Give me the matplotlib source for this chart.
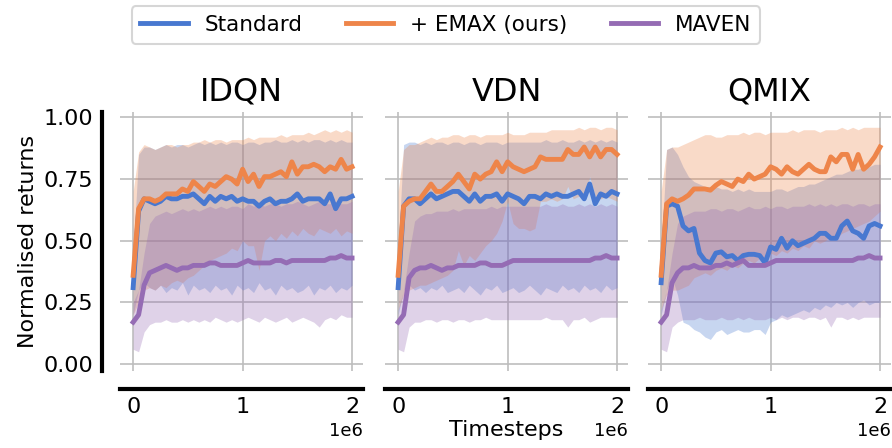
import numpy as np
import matplotlib.pyplot as plt

# Timesteps (41 evaluation points between 0 and 2e6)
steps = np.linspace(0, 2e6, 41)

titles = ["IDQN", "VDN", "QMIX"]
labels = ["Standard", "+ EMAX (ours)", "MAVEN"]
colors = ["#4878d0", "#ee854a", "#956cb4"]
yticks = [0.0, 0.25, 0.5, 0.75, 1.0]
xticks = [0, 1e6, 2e6]

# --- IDQN ---
idqn_std = [0.31, 0.62, 0.67, 0.66, 0.65, 0.66, 0.68, 0.67, 0.67, 0.68, 0.68, 0.69, 0.67, 0.65, 0.68, 0.66, 0.68, 0.67, 0.68, 0.66, 0.67,
            0.66, 0.66, 0.64, 0.66, 0.67, 0.65, 0.66, 0.66, 0.67, 0.69, 0.66, 0.67, 0.67, 0.67, 0.65, 0.69, 0.63, 0.67, 0.67, 0.68]
idqn_std_lo = [0.20, 0.30, 0.33, 0.31, 0.30, 0.32, 0.29, 0.31, 0.30, 0.33, 0.28, 0.32, 0.30, 0.31, 0.29, 0.32, 0.30, 0.31, 0.28, 0.32, 0.30,
               0.31, 0.29, 0.33, 0.30, 0.31, 0.28, 0.32, 0.30, 0.31, 0.29, 0.30, 0.32, 0.28, 0.31, 0.30, 0.32, 0.29, 0.31, 0.30, 0.32]
idqn_std_hi = [0.45, 0.85, 0.88, 0.88, 0.87, 0.88, 0.89, 0.88, 0.89, 0.89, 0.88, 0.89, 0.90, 0.89, 0.90, 0.89, 0.90, 0.89, 0.90, 0.90, 0.89,
               0.90, 0.90, 0.89, 0.90, 0.90, 0.91, 0.90, 0.90, 0.91, 0.90, 0.91, 0.90, 0.91, 0.91, 0.90, 0.91, 0.90, 0.91, 0.90, 0.90]
idqn_emax = [0.36, 0.63, 0.67, 0.67, 0.66, 0.67, 0.69, 0.69, 0.69, 0.71, 0.70, 0.74, 0.72, 0.70, 0.73, 0.72, 0.74, 0.76, 0.75, 0.73, 0.79,
             0.74, 0.77, 0.72, 0.76, 0.76, 0.77, 0.78, 0.76, 0.82, 0.77, 0.80, 0.80, 0.81, 0.80, 0.78, 0.80, 0.79, 0.83, 0.79, 0.80]
idqn_emax_lo = [0.20, 0.25, 0.30, 0.31, 0.30, 0.32, 0.31, 0.33, 0.34, 0.33, 0.35, 0.36, 0.38, 0.40, 0.42, 0.43, 0.44, 0.45, 0.47, 0.46, 0.50,
                0.48, 0.48, 0.38, 0.50, 0.52, 0.50, 0.53, 0.51, 0.54, 0.52, 0.55, 0.53, 0.52, 0.55, 0.54, 0.53, 0.55, 0.52, 0.54, 0.53]
idqn_emax_hi = [0.70, 0.86, 0.89, 0.88, 0.87, 0.88, 0.89, 0.89, 0.88, 0.89, 0.89, 0.90, 0.90, 0.91, 0.90, 0.91, 0.91, 0.90, 0.91, 0.91, 0.91,
                0.92, 0.91, 0.92, 0.92, 0.92, 0.92, 0.93, 0.92, 0.93, 0.93, 0.93, 0.94, 0.93, 0.94, 0.95, 0.94, 0.95, 0.94, 0.95, 0.94]
idqn_mav = [0.17, 0.20, 0.32, 0.37, 0.38, 0.39, 0.40, 0.39, 0.38, 0.39, 0.39, 0.40, 0.40, 0.40, 0.41, 0.41, 0.40, 0.40, 0.40, 0.40, 0.41,
            0.42, 0.41, 0.41, 0.41, 0.41, 0.42, 0.42, 0.41, 0.42, 0.42, 0.42, 0.42, 0.42, 0.42, 0.42, 0.43, 0.43, 0.44, 0.43, 0.43]
idqn_mav_lo = [0.06, 0.05, 0.13, 0.16, 0.17, 0.17, 0.18, 0.17, 0.17, 0.18, 0.17, 0.18, 0.17, 0.18, 0.17, 0.19, 0.18, 0.17, 0.18, 0.17, 0.18,
               0.19, 0.18, 0.17, 0.19, 0.18, 0.17, 0.18, 0.19, 0.17, 0.18, 0.19, 0.18, 0.17, 0.15, 0.18, 0.19, 0.18, 0.20, 0.19, 0.19]
idqn_mav_hi = [0.25, 0.30, 0.45, 0.57, 0.60, 0.61, 0.62, 0.61, 0.62, 0.63, 0.62, 0.63, 0.62, 0.63, 0.64, 0.63, 0.64, 0.63, 0.64, 0.64, 0.63,
               0.65, 0.64, 0.65, 0.64, 0.65, 0.65, 0.64, 0.65, 0.65, 0.66, 0.65, 0.64, 0.65, 0.66, 0.65, 0.65, 0.66, 0.65, 0.65, 0.66]

# --- VDN ---
vdn_std = [0.31, 0.64, 0.67, 0.67, 0.65, 0.67, 0.69, 0.67, 0.68, 0.69, 0.70, 0.70, 0.68, 0.66, 0.69, 0.66, 0.68, 0.68, 0.69, 0.66, 0.69,
           0.68, 0.67, 0.65, 0.68, 0.68, 0.67, 0.69, 0.68, 0.69, 0.68, 0.68, 0.69, 0.70, 0.67, 0.73, 0.65, 0.69, 0.68, 0.70, 0.69]
vdn_std_lo = [0.20, 0.30, 0.32, 0.30, 0.31, 0.29, 0.31, 0.30, 0.32, 0.29, 0.30, 0.31, 0.29, 0.32, 0.30, 0.28, 0.31, 0.30, 0.32, 0.29, 0.30,
              0.31, 0.29, 0.30, 0.32, 0.30, 0.28, 0.31, 0.30, 0.29, 0.32, 0.30, 0.31, 0.29, 0.32, 0.30, 0.31, 0.29, 0.32, 0.30, 0.31]
vdn_std_hi = [0.45, 0.89, 0.90, 0.90, 0.89, 0.90, 0.89, 0.90, 0.90, 0.89, 0.90, 0.90, 0.89, 0.90, 0.90, 0.89, 0.90, 0.90, 0.90, 0.89, 0.90,
              0.90, 0.90, 0.90, 0.90, 0.90, 0.90, 0.91, 0.90, 0.90, 0.91, 0.90, 0.90, 0.91, 0.90, 0.91, 0.90, 0.91, 0.90, 0.91, 0.90]
vdn_emax = [0.36, 0.64, 0.66, 0.67, 0.67, 0.70, 0.73, 0.70, 0.70, 0.72, 0.74, 0.77, 0.74, 0.71, 0.77, 0.75, 0.77, 0.78, 0.82, 0.78, 0.82,
            0.80, 0.79, 0.78, 0.79, 0.80, 0.84, 0.83, 0.83, 0.83, 0.83, 0.87, 0.85, 0.85, 0.88, 0.84, 0.88, 0.84, 0.87, 0.87, 0.85]
vdn_emax_lo = [0.22, 0.28, 0.30, 0.31, 0.32, 0.32, 0.33, 0.34, 0.35, 0.36, 0.38, 0.46, 0.40, 0.44, 0.42, 0.45, 0.48, 0.50, 0.53, 0.58, 0.66,
               0.57, 0.55, 0.55, 0.54, 0.55, 0.66, 0.66, 0.67, 0.66, 0.67, 0.72, 0.67, 0.68, 0.67, 0.76, 0.68, 0.67, 0.68, 0.67, 0.66]
vdn_emax_hi = [0.70, 0.87, 0.89, 0.89, 0.90, 0.91, 0.92, 0.91, 0.92, 0.92, 0.93, 0.93, 0.92, 0.93, 0.93, 0.92, 0.93, 0.93, 0.93, 0.93, 0.94,
               0.93, 0.93, 0.93, 0.94, 0.94, 0.94, 0.94, 0.95, 0.95, 0.95, 0.95, 0.95, 0.96, 0.95, 0.96, 0.96, 0.95, 0.96, 0.96, 0.95]
vdn_mav = [0.17, 0.20, 0.35, 0.38, 0.39, 0.39, 0.40, 0.39, 0.38, 0.39, 0.39, 0.40, 0.40, 0.40, 0.40, 0.41, 0.41, 0.40, 0.40, 0.40, 0.41,
           0.42, 0.42, 0.42, 0.42, 0.42, 0.42, 0.42, 0.42, 0.42, 0.42, 0.42, 0.42, 0.42, 0.42, 0.42, 0.43, 0.43, 0.44, 0.43, 0.43]
vdn_mav_lo = [0.06, 0.05, 0.15, 0.17, 0.17, 0.18, 0.18, 0.17, 0.18, 0.18, 0.17, 0.18, 0.18, 0.17, 0.18, 0.18, 0.19, 0.18, 0.18, 0.18, 0.18,
              0.18, 0.18, 0.18, 0.18, 0.18, 0.18, 0.19, 0.18, 0.18, 0.18, 0.15, 0.18, 0.18, 0.19, 0.17, 0.18, 0.19, 0.19, 0.19, 0.19]
vdn_mav_hi = [0.22, 0.30, 0.45, 0.58, 0.60, 0.61, 0.61, 0.62, 0.62, 0.62, 0.63, 0.62, 0.63, 0.63, 0.63, 0.63, 0.63, 0.64, 0.63, 0.64, 0.64,
              0.64, 0.64, 0.64, 0.64, 0.64, 0.64, 0.65, 0.64, 0.64, 0.65, 0.64, 0.64, 0.65, 0.64, 0.65, 0.64, 0.65, 0.64, 0.65, 0.64]

# --- QMIX ---
qmix_std = [0.33, 0.64, 0.65, 0.64, 0.56, 0.54, 0.55, 0.45, 0.42, 0.41, 0.45, 0.455, 0.435, 0.44, 0.42, 0.44, 0.445, 0.445, 0.44, 0.41, 0.475,
            0.465, 0.51, 0.47, 0.50, 0.48, 0.49, 0.50, 0.51, 0.53, 0.53, 0.51, 0.51, 0.56, 0.58, 0.54, 0.53, 0.51, 0.56, 0.57, 0.56]
qmix_std_lo = [0.20, 0.30, 0.35, 0.28, 0.17, 0.16, 0.14, 0.13, 0.11, 0.10, 0.13, 0.14, 0.12, 0.13, 0.14, 0.13, 0.13, 0.14, 0.14, 0.12, 0.17,
               0.18, 0.20, 0.19, 0.20, 0.21, 0.22, 0.21, 0.23, 0.22, 0.24, 0.23, 0.25, 0.24, 0.25, 0.23, 0.25, 0.26, 0.24, 0.25, 0.25]
qmix_std_hi = [0.45, 0.87, 0.88, 0.85, 0.80, 0.76, 0.74, 0.73, 0.72, 0.72, 0.72, 0.71, 0.71, 0.70, 0.71, 0.70, 0.71, 0.70, 0.70, 0.70, 0.70,
               0.71, 0.71, 0.70, 0.71, 0.72, 0.72, 0.73, 0.73, 0.74, 0.75, 0.76, 0.77, 0.77, 0.78, 0.79, 0.79, 0.80, 0.80, 0.81, 0.81]
qmix_emax = [0.36, 0.65, 0.67, 0.66, 0.67, 0.685, 0.71, 0.71, 0.71, 0.705, 0.725, 0.74, 0.73, 0.72, 0.75, 0.74, 0.77, 0.75, 0.76, 0.77, 0.80,
             0.79, 0.77, 0.80, 0.78, 0.77, 0.79, 0.81, 0.79, 0.78, 0.78, 0.84, 0.82, 0.85, 0.85, 0.79, 0.85, 0.79, 0.81, 0.84, 0.88]
qmix_emax_lo = [0.22, 0.28, 0.30, 0.30, 0.31, 0.32, 0.35, 0.36, 0.37, 0.36, 0.38, 0.39, 0.38, 0.40, 0.39, 0.41, 0.42, 0.41, 0.43, 0.42, 0.45,
                0.44, 0.46, 0.45, 0.47, 0.46, 0.48, 0.47, 0.50, 0.49, 0.50, 0.52, 0.51, 0.53, 0.54, 0.55, 0.56, 0.57, 0.58, 0.60, 0.62]
qmix_emax_hi = [0.70, 0.87, 0.88, 0.88, 0.89, 0.90, 0.91, 0.92, 0.93, 0.93, 0.92, 0.92, 0.93, 0.93, 0.93, 0.94, 0.93, 0.94, 0.94, 0.93, 0.94,
                0.94, 0.94, 0.94, 0.95, 0.94, 0.95, 0.95, 0.95, 0.94, 0.95, 0.95, 0.95, 0.96, 0.95, 0.96, 0.95, 0.96, 0.96, 0.96, 0.96]
qmix_mav = [0.17, 0.20, 0.33, 0.37, 0.39, 0.39, 0.40, 0.39, 0.39, 0.39, 0.40, 0.40, 0.41, 0.40, 0.41, 0.42, 0.40, 0.40, 0.40, 0.40, 0.41,
            0.42, 0.42, 0.42, 0.42, 0.42, 0.42, 0.42, 0.42, 0.42, 0.42, 0.42, 0.42, 0.42, 0.42, 0.42, 0.43, 0.43, 0.44, 0.43, 0.43]
qmix_mav_lo = [0.06, 0.05, 0.15, 0.17, 0.18, 0.18, 0.18, 0.19, 0.18, 0.18, 0.18, 0.19, 0.18, 0.18, 0.19, 0.18, 0.19, 0.18, 0.18, 0.18, 0.19,
               0.18, 0.19, 0.18, 0.19, 0.19, 0.18, 0.19, 0.19, 0.18, 0.19, 0.15, 0.19, 0.19, 0.18, 0.19, 0.18, 0.19, 0.19, 0.19, 0.19]
qmix_mav_hi = [0.22, 0.30, 0.45, 0.57, 0.60, 0.61, 0.62, 0.62, 0.62, 0.63, 0.63, 0.62, 0.63, 0.63, 0.62, 0.63, 0.64, 0.63, 0.63, 0.64, 0.63,
               0.64, 0.64, 0.63, 0.64, 0.64, 0.64, 0.65, 0.64, 0.65, 0.64, 0.65, 0.64, 0.65, 0.65, 0.64, 0.65, 0.65, 0.64, 0.65, 0.65]

panels = [
    [(idqn_std, idqn_std_lo, idqn_std_hi), (idqn_emax, idqn_emax_lo, idqn_emax_hi), (idqn_mav, idqn_mav_lo, idqn_mav_hi)],
    [(vdn_std, vdn_std_lo, vdn_std_hi), (vdn_emax, vdn_emax_lo, vdn_emax_hi), (vdn_mav, vdn_mav_lo, vdn_mav_hi)],
    [(qmix_std, qmix_std_lo, qmix_std_hi), (qmix_emax, qmix_emax_lo, qmix_emax_hi), (qmix_mav, qmix_mav_lo, qmix_mav_hi)],
]

W, H = 892, 448
fig = plt.figure(figsize=(W / 100, H / 100), dpi=100)

lefts = [120, 385, 648]
handles = []
for i, (title, series) in enumerate(zip(titles, panels)):
    ax = fig.add_axes([lefts[i] / W, (H - 371) / H, 243 / W, 259 / H])
    for (mean, lo, hi), c, lab in zip(series, colors, labels):
        ax.fill_between(steps, lo, hi, color=c, alpha=0.3, linewidth=0)
        ln, = ax.plot(steps, mean, color=c, lw=3.5, label=lab)
        if i == 0:
            handles.append(ln)
    ax.set_xlim(-0.12e6, 2.1e6)
    ax.set_ylim(-0.028, 1.022)
    ax.set_xticks(xticks)
    ax.set_yticks(yticks)
    ax.grid(True, color="#bdbdbd", lw=1.2)
    ax.set_axisbelow(True)
    ax.tick_params(length=0, labelsize=16, pad=6)
    ax.xaxis.get_offset_text().set_fontsize(13)
    for s in ["top", "right"]:
        ax.spines[s].set_visible(False)
    ax.spines["bottom"].set_position(("outward", 13))
    ax.spines["bottom"].set_linewidth(3)
    if i == 0:
        ax.spines["left"].set_position(("outward", 13))
        ax.spines["left"].set_linewidth(3)
        ax.set_yticklabels(["0.00", "0.25", "0.50", "0.75", "1.00"])
        ax.set_ylabel("Normalised returns", fontsize=16)
    else:
        ax.spines["left"].set_visible(False)
        ax.set_yticklabels([])
    if i == 1:
        ax.set_xlabel("Timesteps", fontsize=16, labelpad=2)
    ax.set_title(title, fontsize=23, pad=8)

leg = fig.legend(handles=handles, loc="center", bbox_to_anchor=(0.5, 1 - 25 / H), ncol=3,
                 fontsize=15.5, frameon=True, handlelength=2.2, columnspacing=2.0)
leg.get_frame().set_edgecolor("#cccccc")
leg.get_frame().set_linewidth(1.5)
for l in leg.get_lines():
    l.set_linewidth(3.5)

fig.savefig("out.png", dpi=100)
